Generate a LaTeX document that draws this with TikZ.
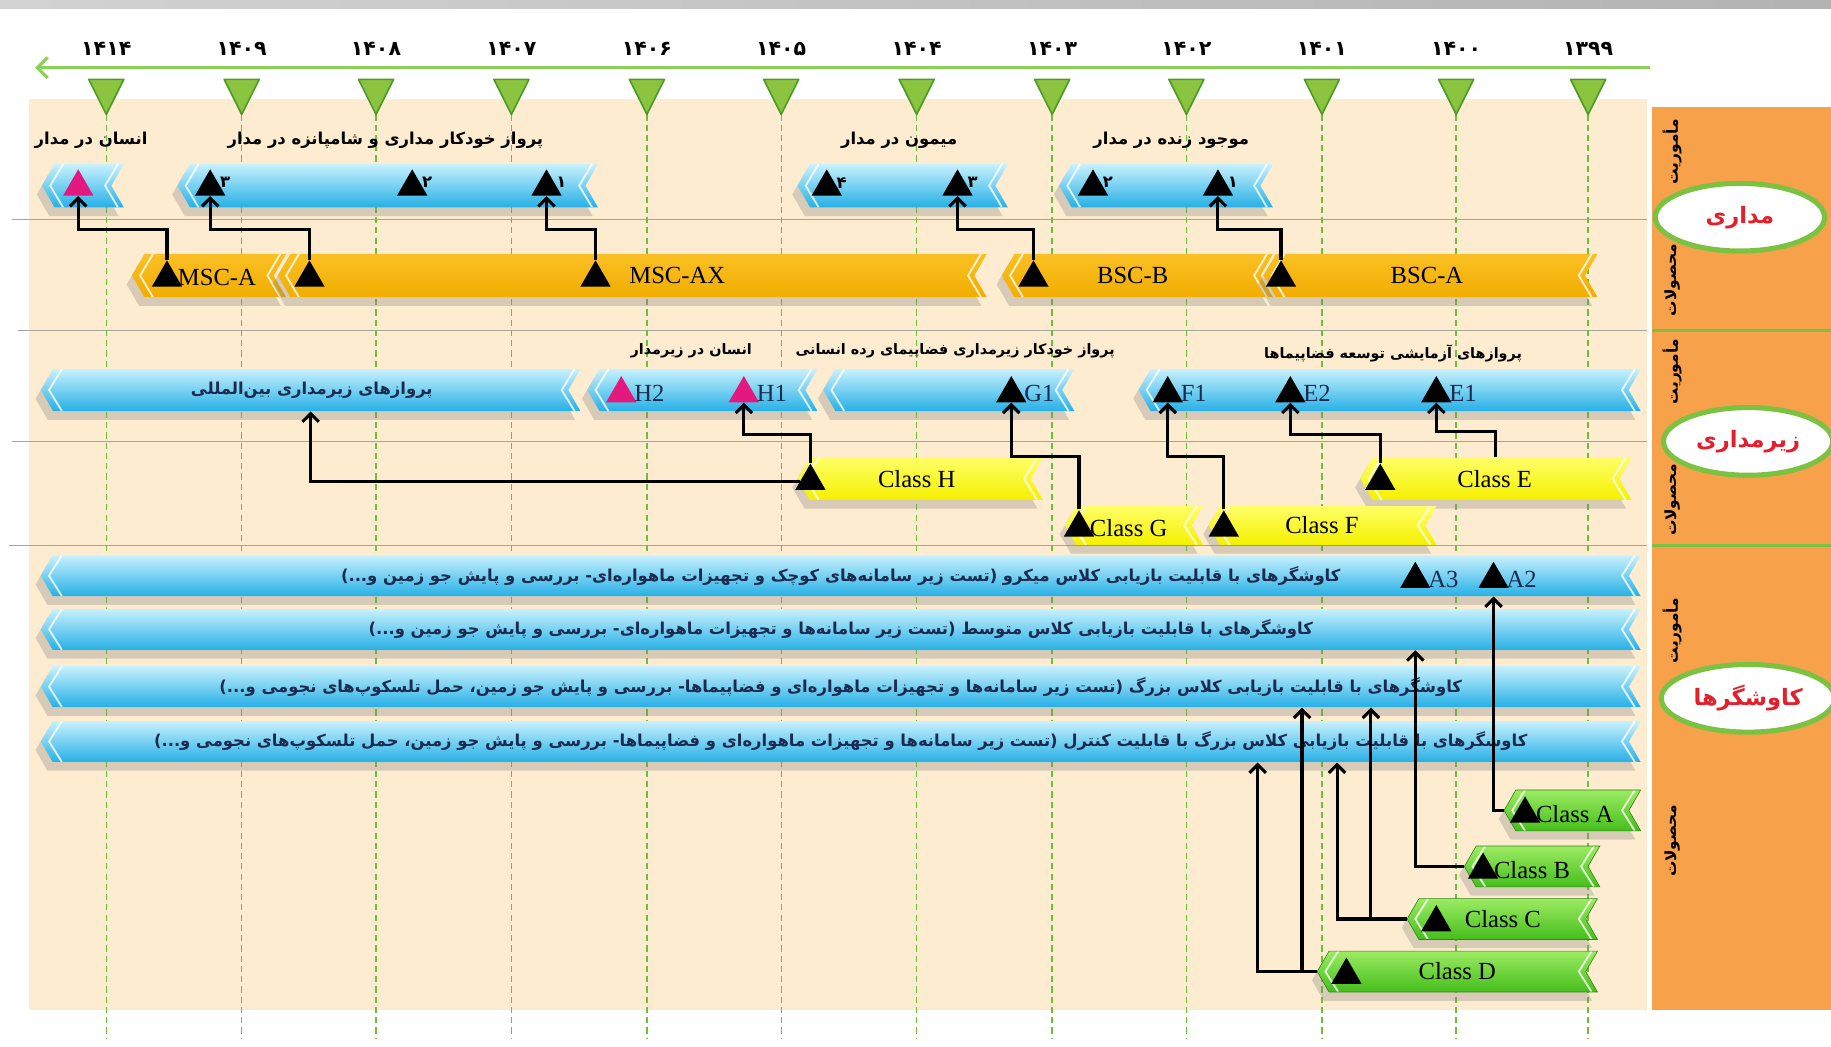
\documentclass[tikz,border=0pt]{standalone}
\usepackage{fontspec}
\setmainfont{Liberation Serif}
\newfontfamily\fa[Script=Arabic]{DejaVu Sans}
\TeXXeTstate=1
\usepackage{tikz}
\usetikzlibrary{positioning, arrows.meta, shapes.geometric, shapes.symbols, shadows}

\definecolor{beigebg}{HTML}{FDECCF}
\definecolor{orangecol}{HTML}{F8A14B}
\definecolor{timegreen}{HTML}{8CD05A}
\definecolor{tickgreen}{HTML}{8BC53F}
\definecolor{tickdark}{HTML}{4E9A28}
\definecolor{dashgreen}{HTML}{6DBE3A}
\definecolor{bluetop}{HTML}{C8F1FD}
\definecolor{bluebot}{HTML}{26B0E6}
\definecolor{ambertop}{HTML}{F9C024}
\definecolor{amberbot}{HTML}{F2AD00}
\definecolor{yeltop}{HTML}{FFFF66}
\definecolor{yelbot}{HTML}{F4F000}
\definecolor{grntop}{HTML}{9CEB62}
\definecolor{grnbot}{HTML}{45BE1C}
\definecolor{magtri}{HTML}{E3197F}
\definecolor{navytxt}{HTML}{1B2A50}
\definecolor{ringgreen}{HTML}{7CC242}
\definecolor{ringred}{HTML}{E2202C}
\definecolor{sepgray}{HTML}{A9A39A}

% band: style, name, left x, right x, centre y (in pixels of the sheet)
\newcommand{\band}[5]{\node[#1, minimum width={(#4-#3)*0.02cm}] (#2) at ({(#3+#4)/2},#5) {};}

\tikzset{
  sepline/.style={draw=sepgray, line width=0.6pt},
  timeaxis/.style={draw=timegreen, line width=1.6pt, -{Straight Barb[length=5pt,width=10pt]}},
  dashline/.style={draw=dashgreen, line width=0.7pt, dash pattern=on 3pt off 2pt},
  yeartri/.style={fill=tickgreen, draw=tickdark, line width=0.8pt, line join=round},
  yearlab/.style={font=\fa\bfseries\fontsize{10}{12}\selectfont},
  band/.style={signal, signal to=west, signal from=east, signal pointer angle=120,
    inner sep=0pt, minimum height=0.74cm,
    drop shadow={opacity=0.3, shadow xshift=-0.09cm, shadow yshift=-0.15cm},
    path picture={
      \draw[white, opacity=0.8, line width=0.9pt]
        ([xshift=0.36cm]path picture bounding box.north west)
        -- ([xshift=0.14cm]path picture bounding box.west)
        -- ([xshift=0.36cm]path picture bounding box.south west);
      \draw[white, opacity=0.8, line width=0.9pt]
        ([xshift=-0.1cm]path picture bounding box.north east)
        -- ([xshift=-0.32cm]path picture bounding box.east)
        -- ([xshift=-0.1cm]path picture bounding box.south east);}},
  blueband/.style={band, top color=bluetop, bottom color=bluebot},
  amberband/.style={band, top color=ambertop, bottom color=amberbot},
  yelband/.style={band, minimum height=0.72cm, top color=yeltop, bottom color=yelbot},
  grnband/.style={band, minimum height=0.7cm, top color=grntop, bottom color=grnbot,
    draw=grnbot!70!black, line width=0.3pt},
  tri/.style={regular polygon, regular polygon sides=3, minimum size=0.6cm, inner sep=0pt, fill=black},
  pinktri/.style={tri, fill=magtri},
  digit/.style={font=\fa\bfseries\fontsize{8}{9}\selectfont, inner sep=0.5pt},
  falab/.style={font=\fa\bfseries\fontsize{8}{9}\selectfont, inner sep=1pt},
  falabs/.style={font=\fa\bfseries\fontsize{7}{8}\selectfont, inner sep=1pt},
  bandtxt/.style={font=\fa\bfseries\fontsize{8}{10}\selectfont, text=navytxt, inner sep=1pt},
  lat/.style={font=\fontsize{12}{13}\selectfont, inner sep=1pt},
  tag/.style={lat, text=navytxt},
  conn/.style={line width=1.5pt, -{Straight Barb[length=4pt,width=8pt]}},
  ringnode/.style={ellipse, draw=ringgreen, line width=2.5pt, fill=white,
    minimum width=2.9cm, minimum height=1.16cm, text=ringred,
    font=\fa\bfseries\fontsize{11}{12}\selectfont},
  sidelab/.style={rotate=90, font=\fa\bfseries\fontsize{7.5}{8}\selectfont}
}

\begin{document}
\begin{tikzpicture}[x=0.02cm, y=-0.02cm]
% sheet
\useasboundingbox (0,0) rectangle (1568,896);
\fill[white] (0,0) rectangle (1568,896);
\fill[left color=gray!35, right color=gray!60] (0,0) rectangle (1568,7);
\fill[beigebg] (25,85) rectangle (1410,865);
\fill[orangecol] (1415,92) rectangle (1568,865);
\foreach \y in {283,467}
  \draw[ringgreen, line width=1.6pt] (1415,\y) -- (1568,\y);
% row separators
\foreach \y/\xs in {188/10,283/15,378/10,467/8}
  \draw[sepline] (\xs,\y) -- (1410,\y);

% time axis with years
\coordinate (axR) at (1413,58);
\coordinate (axL) at (30,58);
\draw[timeaxis] (axR) -- (axL);
\foreach \x/\yr [count=\i] in {91/۱۴۱۴, 207/۱۴۰۹, 322/۱۴۰۸, 438/۱۴۰۷, 554/۱۴۰۶, 669/۱۴۰۵,
    785/۱۴۰۴, 901/۱۴۰۳, 1016/۱۴۰۲, 1132/۱۴۰۱, 1247/۱۴۰۰, 1360/۱۳۹۹}{
  \draw[dashline] (\x,98) -- (\x,890);
  \draw[yeartri] (\x-15,68) -- (\x+15,68) -- (\x,98) -- cycle;
  \node[yearlab] (yr\i) at (\x,42) {\yr};
}

% orbital
\band{blueband}{bHum}{36}{106}{159}
\band{blueband}{bOrb}{152}{512}{159}
\band{blueband}{bMon}{683}{863}{159}
\band{blueband}{bLiv}{907}{1090}{159}
\band{amberband}{bMSCA}{113}{245}{236}
\band{amberband}{bMSCAX}{238}{845}{236}
\band{amberband}{bBSCB}{858}{1090}{236}
\band{amberband}{bBSCA}{1082}{1368}{236}

% sub-orbital
\band{blueband, minimum height=0.72cm}{bIntl}{35}{497}{334}
\band{blueband, minimum height=0.72cm}{bHum2}{503}{700}{334}
\band{blueband, minimum height=0.72cm}{bAuto}{705}{920}{334}
\band{blueband, minimum height=0.72cm}{bTest}{975}{1405}{334}
\band{yelband}{bClassH}{683}{893}{410}
\band{yelband}{bClassE}{1165}{1397}{410}
\band{yelband, minimum height=0.66cm}{bClassG}{912}{1030}{450}
\band{yelband, minimum height=0.66cm}{bClassF}{1035}{1230}{450}

% sounding rockets
\band{blueband, minimum height=0.7cm}{bRovA}{35}{1405}{493}
\band{blueband, minimum height=0.7cm}{bRovB}{35}{1405}{539}
\band{blueband, minimum height=0.7cm}{bRovC}{35}{1405}{588}
\band{blueband, minimum height=0.7cm}{bRovD}{35}{1405}{635}
\band{grnband}{bClassA}{1288}{1405}{694}
\band{grnband}{bClassB}{1254}{1370}{742}
\band{grnband}{bClassC}{1205}{1368}{787}
\band{grnband}{bClassD}{1128}{1368}{832}

% milestones
\foreach \n/\x/\y in {tO3/180/160, tO2/353/160, tO1/468/160, tM4/708/160, tM3/820/160,
    tL2/936/160, tL1/1043/160, tMSCA/143/238, tMSCAXa/265/238, tMSCAXb/510/238,
    tBSCB/885/238, tBSCA/1097/238, tG1/866/337, tF1/1000/337, tE2/1105/337, tE1/1230/337,
    tClassH/694/412, tClassE/1182/412, tClassG/924/452, tClassF/1048/452,
    tA3/1212/496, tA2/1279/496, tClassA/1306/697, tClassB/1270/745,
    tClassC/1230/790, tClassD/1153/835}
  \node[tri] (\n) at (\x,\y) {};
\foreach \n/\x/\y in {tHum/67/160, tH2/532/337, tH1/637/337}
  \node[pinktri] (\n) at (\x,\y) {};

% milestone labels
\foreach \n/\d in {tO3/۳, tO2/۲, tO1/۱, tM4/۴, tM3/۳, tL2/۲, tL1/۱}
  \node[digit, right=-1pt of \n, yshift=2pt] (d\n) {\d};
\foreach \n/\t in {tH2/H2, tH1/H1, tG1/G1, tF1/F1, tE2/E2, tE1/E1, tA3/A3, tA2/A2}
  \node[tag, right=0pt of \n] (l\n) {\t};
\node[lat, right=-1pt of tMSCA] (lMSCA) {MSC-A};
\node[lat] (lMSCAX) at (580,236) {MSC-AX};
\node[lat] (lBSCB) at (970,236) {BSC-B};
\node[lat] (lBSCA) at (1222,236) {BSC-A};
\node[lat] (lClassH) at (785,410) {Class H};
\node[lat] (lClassE) at (1280,410) {Class E};
\node[lat, right=-1pt of tClassG] (lClassG) {Class G};
\node[lat] (lClassF) at (1132,450) {Class F};
\node[lat, right=-1pt of tClassA] (lClassA) {Class A};
\node[lat, right=-1pt of tClassB] (lClassB) {Class B};
\node[lat] (lClassC) at (1287,787) {Class C};
\node[lat] (lClassD) at (1248,832) {Class D};

% mission titles
\node[falab] (mHum) at (78,120) {\beginR انسان در مدار\endR};
\node[falab] (mOrb) at (330,120) {\beginR پرواز خودکار مداری و شامپانزه در مدار\endR};
\node[falab] (mMon) at (770,120) {\beginR میمون در مدار\endR};
\node[falab] (mLiv) at (1003,120) {\beginR موجود زنده در مدار\endR};
\node[falabs] (mHum2) at (592,300) {\beginR انسان در زیرمدار\endR};
\node[falabs] (mAuto) at (818,300) {\beginR پرواز خودکار زیرمداری فضاپیمای رده انسانی\endR};
\node[falabs] (mTest) at (1193,303) {\beginR پروازهای آزمایشی توسعه فضاپیماها\endR};
\node[bandtxt] (nIntl) at (267,334) {\beginR پروازهای زیرمداری بین‌المللی\endR};
\node[bandtxt] (nRovA) at (720,493) {\beginR کاوشگرهای با قابلیت بازیابی کلاس میکرو (تست زیر سامانه‌های کوچک و تجهیزات ماهواره‌ای- بررسی و پایش جو زمین و...)\endR};
\node[bandtxt] (nRovB) at (720,539) {\beginR کاوشگرهای با قابلیت بازیابی کلاس متوسط (تست زیر سامانه‌ها و تجهیزات ماهواره‌ای- بررسی و پایش جو زمین و...)\endR};
\node[bandtxt] (nRovC) at (720,588) {\beginR کاوشگرهای با قابلیت بازیابی کلاس بزرگ (تست زیر سامانه‌ها و تجهیزات ماهواره‌ای و فضاپیماها- بررسی و پایش جو زمین، حمل تلسکوپ‌های نجومی و...)\endR};
\node[bandtxt] (nRovD) at (720,635) {\beginR کاوشگرهای با قابلیت بازیابی کلاس بزرگ با قابلیت کنترل (تست زیر سامانه‌ها و تجهیزات ماهواره‌ای و فضاپیماها- بررسی و پایش جو زمین، حمل تلسکوپ‌های نجومی و...)\endR};

% links products -> missions
\draw[conn] (tMSCA.north) -- ++(0,-26) -| (tHum.south);
\draw[conn] (tMSCAXa.north) -- ++(0,-26) -| (tO3.south);
\draw[conn] (tMSCAXb.north) -- ++(0,-26) -| (tO1.south);
\draw[conn] (tBSCB.north) -- ++(0,-26) -| (tM3.south);
\draw[conn] (tBSCA.north) -- ++(0,-26) -| (tL1.south);
\draw[conn] (tClassH.north) -- ++(0,-24) -| (tH1.south);
\draw[conn] (tClassH.west) -| (bIntl.south);
\draw[conn] (tClassG.north) -- ++(0,-45) -| (tG1.south);
\draw[conn] (tClassF.north) -- ++(0,-45) -| (tF1.south);
\draw[conn] (tClassE.north) -- ++(0,-24) -| (tE2.south);
\draw[conn] (bClassE.north) -- ++(0,-22) -| (tE1.south);
\coordinate (pC1) at (1174,606);
\coordinate (pC2) at (1145,653);
\coordinate (pD1) at (1115,606);
\coordinate (pD2) at (1077,653);
\draw[conn] (bClassA.west) -| (tA2 |- bRovA.south);
\draw[conn] (bClassB.west) -| (tA3 |- bRovB.south);
\draw[conn] (bClassC.west) -| (pC2);
\draw[conn] (bClassC.west -| pC1) -- (pC1);
\draw[conn] (bClassD.west) -| (pD2);
\draw[conn] (bClassD.west -| pD1) -- (pD1);

% programme column
\node[ringnode] (eOrb) at (1490,186) {\beginR مداری\endR};
\node[ringnode] (eSub) at (1497,378) {\beginR زیرمداری\endR};
\node[ringnode] (eRov) at (1497,598) {\beginR کاوشگرها\endR};
\foreach \y/\t [count=\i] in {130/مأموریت, 240/محصولات, 318/مأموریت, 428/محصولات, 540/مأموریت, 720/محصولات}
  \node[sidelab] (s\i) at (1432,\y) {\beginR\t\endR};
\end{tikzpicture}
\end{document}
